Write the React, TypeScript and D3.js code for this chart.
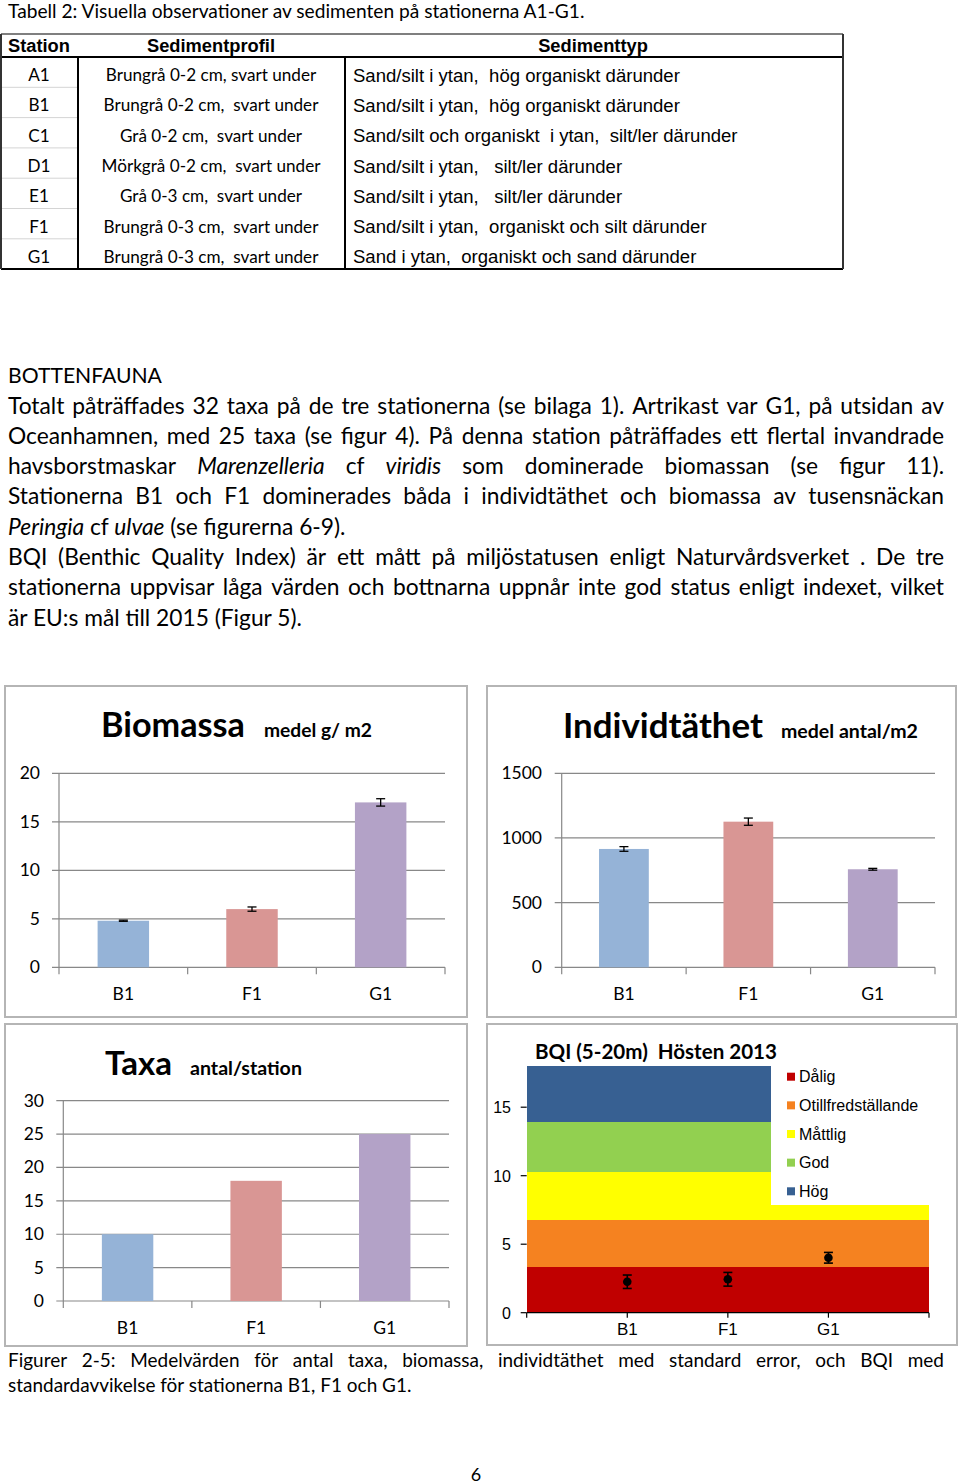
import React from 'react';
import * as d3 from 'd3';

// ---------- data ----------
const tableTitle = 'Tabell 2: Visuella observationer av sedimenten på stationerna A1-G1.';
const tableHeaders = ['Station', 'Sedimentprofil', 'Sedimenttyp'];
const tableStations = ['A1', 'B1', 'C1', 'D1', 'E1', 'F1', 'G1'];
const tableProfiles = [
  'Brungrå 0-2 cm, svart under',
  'Brungrå 0-2 cm,  svart under',
  'Grå 0-2 cm,  svart under',
  'Mörkgrå 0-2 cm,  svart under',
  'Grå 0-3 cm,  svart under',
  'Brungrå 0-3 cm,  svart under',
  'Brungrå 0-3 cm,  svart under',
];
const tableTypes = [
  'Sand/silt i ytan,  hög organiskt därunder',
  'Sand/silt i ytan,  hög organiskt därunder',
  'Sand/silt och organiskt  i ytan,  silt/ler därunder',
  'Sand/silt i ytan,   silt/ler därunder',
  'Sand/silt i ytan,   silt/ler därunder',
  'Sand/silt i ytan,  organiskt och silt därunder',
  'Sand i ytan,  organiskt och sand därunder',
];

const sectionHeading = 'BOTTENFAUNA';
type Part = [string, boolean];
const paragraphLines: { justify: boolean; parts: Part[] }[] = [
  { justify: true, parts: [['Totalt påträffades 32 taxa på de tre stationerna (se bilaga 1). Artrikast var G1, på utsidan av', false]] },
  { justify: true, parts: [['Oceanhamnen, med 25 taxa (se figur 4). På denna station påträffades ett flertal invandrade', false]] },
  { justify: true, parts: [['havsborstmaskar ', false], ['Marenzelleria', true], [' cf ', false], ['viridis', true], [' som dominerade biomassan (se figur 11).', false]] },
  { justify: true, parts: [['Stationerna B1 och F1 dominerades båda i individtäthet och biomassa av tusensnäckan', false]] },
  { justify: false, parts: [['Peringia', true], [' cf ', false], ['ulvae', true], [' (se figurerna 6-9).', false]] },
  { justify: true, parts: [['BQI (Benthic Quality Index) är ett mått på miljöstatusen enligt Naturvårdsverket . De tre', false]] },
  { justify: true, parts: [['stationerna uppvisar låga värden och bottnarna uppnår inte god status enligt indexet, vilket', false]] },
  { justify: false, parts: [['är EU:s mål till 2015 (Figur 5).', false]] },
];
const captionLines: { justify: boolean; parts: Part[] }[] = [
  { justify: true, parts: [['Figurer 2-5: Medelvärden  för antal taxa, biomassa, individtäthet med standard error, och BQI med', false]] },
  { justify: false, parts: [['standardavvikelse för stationerna B1, F1 och G1.', false]] },
];
const pageNumber = '6';

const stations = ['B1', 'F1', 'G1'];
const barColors = ['#95b3d7', '#d99694', '#b3a2c7'];

const biomassValues = [4.8, 6.0, 17.0];
const biomassErrors = [0.06, 0.22, 0.38];
const biomassTicks = [0, 5, 10, 15, 20];

const densityValues = [915, 1126, 758];
const densityErrors = [18, 28, 7];
const densityTicks = [0, 500, 1000, 1500];

const taxaValues = [10, 18, 25];
const taxaTicks = [0, 5, 10, 15, 20, 25, 30];

const bqiValues = [2.26, 2.44, 4.01];
const bqiErrors = [0.49, 0.5, 0.39];
const bqiTicks = [0, 5, 10, 15];
const bqiClassNames = ['Dålig', 'Otillfredställande', 'Måttlig', 'God', 'Hög'];
const bqiClassColors = ['#c00000', '#f58220', '#ffff00', '#92d050', '#376092'];
const bqiBoundsLeft = [0, 3.36, 6.77, 10.25, 13.9, 18];
const bqiBoundsRight = [0, 3.36, 6.77, 7.84];

// ---------- helpers ----------
let _ctx: CanvasRenderingContext2D | null = null;
function measure(text: string, font: string): number {
  if (!_ctx) _ctx = document.createElement('canvas').getContext('2d');
  _ctx!.font = font;
  return _ctx!.measureText(text).width;
}
function fitSize(text: string, family: string, weight: string, target: number, style = 'normal') {
  const w = measure(text, `${style} ${weight} 100px ${family}`);
  return (100 * target) / w;
}

const SANS = 'Lato';
const ARIAL = '"Liberation Sans", Arial';

function TextLine({ parts, justify, x0, x1, y, size, family }: { parts: Part[]; justify: boolean; x0: number; x1: number; y: number; size: number; family: string }) {
  if (!justify) {
    return (
      <text x={x0} y={y} fontFamily={family} fontSize={size} style={{ whiteSpace: 'pre' }} fill="#000">
        {parts.map(([t, it], i) => (
          <tspan key={i} fontStyle={it ? 'italic' : 'normal'}>{t}</tspan>
        ))}
      </text>
    );
  }
  const words = parts.flatMap(([t, it]) => t.split(' ').filter((w) => w.length).map((w) => ({ w, it })));
  const widths = words.map((o) => measure(o.w, `${o.it ? 'italic' : 'normal'} normal ${size}px ${family}`));
  const total = d3.sum(widths);
  const gap = (x1 - x0 - total) / (words.length - 1);
  let x = x0;
  return (
    <g>
      {words.map((o, i) => {
        const el = (
          <text key={i} x={x} y={y} fontFamily={family} fontSize={size} fontStyle={o.it ? 'italic' : 'normal'} fill="#000">
            {o.w}
          </text>
        );
        x += widths[i] + gap;
        return el;
      })}
    </g>
  );
}

type Box = { x: number; y: number; w: number; h: number };
type Plot = { left: number; right: number; top: number; bottom: number };

function BarChart(props: {
  box: Box; plot: Plot; ticks: number[]; values: number[]; errors?: number[];
  title: string; subtitle: string; titleX: number; titleW: number; subX: number; subW: number; titleY: number;
  yLabelRight: number; xLabelY: number;
}) {
  const { box, plot, ticks, values, errors, title, subtitle, titleX, titleW, subX, subW, titleY, yLabelRight, xLabelY } = props;
  const y = d3.scaleLinear().domain([0, d3.max(ticks)!]).range([plot.bottom, plot.top]);
  const x = d3.scaleBand().domain(stations).range([plot.left, plot.right]).paddingInner(0.6).paddingOuter(0.3);
  const step = x.step();
  const titleSize = fitSize(title, SANS, 'bold', titleW);
  const subSize = fitSize(subtitle, SANS, 'bold', subW);
  return (
    <g>
      <rect x={box.x} y={box.y} width={box.w} height={box.h} fill="#fff" stroke="#b5b5b5" strokeWidth={2} />
      <text x={titleX} y={titleY} fontFamily={SANS} fontWeight="bold" fontSize={titleSize}>{title}</text>
      <text x={subX} y={titleY} fontFamily={SANS} fontWeight="bold" fontSize={subSize}>{subtitle}</text>
      {ticks.map((t) => (
        <g key={t}>
          <line x1={plot.left - 7} x2={plot.right} y1={y(t)} y2={y(t)} stroke="#888" strokeWidth={1.2} />
          <text x={yLabelRight} y={y(t) + 6} textAnchor="end" fontFamily={SANS} fontSize={17.5} fill="#000">{t}</text>
        </g>
      ))}
      <line x1={plot.left} x2={plot.left} y1={plot.top} y2={plot.bottom} stroke="#888" strokeWidth={1.2} />
      {d3.range(stations.length + 1).map((i) => (
        <line key={i} x1={plot.left + i * step} x2={plot.left + i * step} y1={plot.bottom} y2={plot.bottom + 7} stroke="#888" strokeWidth={1.2} />
      ))}
      {stations.map((s, i) => (
        <g key={s}>
          <rect x={x(s)} y={y(values[i])} width={x.bandwidth()} height={plot.bottom - y(values[i])} fill={barColors[i]} />
          {errors && (
            <g stroke="#000" strokeWidth={1.3}>
              <line x1={x(s)! + x.bandwidth() / 2} x2={x(s)! + x.bandwidth() / 2} y1={y(values[i] - errors[i])} y2={y(values[i] + errors[i])} />
              <line x1={x(s)! + x.bandwidth() / 2 - 4.5} x2={x(s)! + x.bandwidth() / 2 + 4.5} y1={y(values[i] - errors[i])} y2={y(values[i] - errors[i])} />
              <line x1={x(s)! + x.bandwidth() / 2 - 4.5} x2={x(s)! + x.bandwidth() / 2 + 4.5} y1={y(values[i] + errors[i])} y2={y(values[i] + errors[i])} />
            </g>
          )}
          <text x={x(s)! + x.bandwidth() / 2} y={xLabelY} textAnchor="middle" fontFamily={SANS} fontSize={17.5}>{s}</text>
        </g>
      ))}
    </g>
  );
}

function BqiChart() {
  const box = { x: 487, y: 1024, w: 470, h: 321 };
  const x = d3.scaleLinear().domain([0, 4]).range([526.7, 929]);
  const y = d3.scaleLinear().domain([0, 18]).range([1312.7, 1066.1]);
  const split = 2.42;
  const title = 'BQI (5-20m)  Hösten 2013';
  const titleSize = fitSize(title, SANS, 'bold', 242);
  return (
    <g>
      <rect x={box.x} y={box.y} width={box.w} height={box.h} fill="#fff" stroke="#b5b5b5" strokeWidth={2} />
      <g shapeRendering="crispEdges">
        {bqiBoundsLeft.slice(1).map((b, i) => (
          <rect key={'l' + i} x={x(0)} width={x(split) - x(0) + 1} y={y(b)} height={y(bqiBoundsLeft[i]) - y(b)} fill={bqiClassColors[i]} />
        ))}
        {bqiBoundsRight.slice(1).map((b, i) => (
          <rect key={'r' + i} x={x(split)} width={x(4) - x(split)} y={y(b)} height={y(bqiBoundsRight[i]) - y(b)} fill={bqiClassColors[i]} />
        ))}
      </g>
      <text x={535} y={1059} fontFamily={SANS} fontWeight="bold" fontSize={titleSize} style={{ whiteSpace: 'pre' }}>{title}</text>
      <line x1={x(0)} x2={x(4)} y1={y(0)} y2={y(0)} stroke="#000" strokeWidth={1.2} />
      {d3.range(5).map((i) => (
        <line key={i} x1={x(i)} x2={x(i)} y1={y(0)} y2={y(0) + 5} stroke="#000" strokeWidth={1.2} />
      ))}
      {bqiTicks.map((t) => (
        <g key={t}>
          <line x1={x(0) - 6} x2={x(0)} y1={y(t)} y2={y(t)} stroke="#000" strokeWidth={1.2} />
          <text x={511} y={y(t) + 6} textAnchor="end" fontFamily={ARIAL} fontSize={16}>{t}</text>
        </g>
      ))}
      {stations.map((s, i) => (
        <g key={s}>
          <g stroke="#000" strokeWidth={1.6}>
            <line x1={x(i + 1)} x2={x(i + 1)} y1={y(bqiValues[i] - bqiErrors[i])} y2={y(bqiValues[i] + bqiErrors[i])} />
            <line x1={x(i + 1) - 4.5} x2={x(i + 1) + 4.5} y1={y(bqiValues[i] - bqiErrors[i])} y2={y(bqiValues[i] - bqiErrors[i])} />
            <line x1={x(i + 1) - 4.5} x2={x(i + 1) + 4.5} y1={y(bqiValues[i] + bqiErrors[i])} y2={y(bqiValues[i] + bqiErrors[i])} />
          </g>
          <circle cx={x(i + 1)} cy={y(bqiValues[i])} r={4.3} fill="#000" />
          <text x={x(i + 1)} y={1335} textAnchor="middle" fontFamily={ARIAL} fontSize={17}>{s}</text>
        </g>
      ))}
      {bqiClassNames.map((n, i) => {
        const cy = 1076.7 + i * 28.65;
        return (
          <g key={n}>
            <rect x={787} y={cy - 4} width={8} height={8} fill={bqiClassColors[i]} />
            <text x={799} y={cy + 5.5} fontFamily={ARIAL} fontSize={16}>{n}</text>
          </g>
        );
      })}
    </g>
  );
}

export default function App() {
  const titleSize = fitSize(tableTitle, SANS, 'normal', 579);
  const headSize = fitSize('Station', ARIAL, 'bold', 62);
  const profileSize = fitSize('Mörkgrå 0-2 cm,  svart under', SANS, 'normal', 219);
  const typeSize = fitSize('Sand/silt och organiskt  i ytan,  silt/ler därunder', ARIAL, 'normal', 385);
  const bodySize = fitSize('är EU:s mål till 2015 (Figur 5).', SANS, 'normal', 295);
  const headingSize = fitSize(sectionHeading, SANS, 'normal', 154);
  const captionSize = fitSize('standardavvikelse för stationerna B1, F1 och G1.', SANS, 'normal', 404);

  const rowTop = 57;
  const rowH = 30.3;
  const tableLeft = 1;
  const tableRight = 843;
  const col1 = 78;
  const col2 = 345;
  const tableBottom = rowTop + rowH * tableStations.length;

  return (
    <svg width={960} height={1484} style={{ position: 'absolute', left: 0, top: 0 }} fontFamily={SANS}>
      <rect width={960} height={1484} fill="#fff" />
      <text x={8} y={18} fontSize={titleSize} fontFamily={SANS}>{tableTitle}</text>

      {/* table */}
      {tableStations.slice(1).map((_, i) => (
        <line key={i} x1={tableLeft + 1} x2={col1 - 1} y1={rowTop + rowH * (i + 1)} y2={rowTop + rowH * (i + 1)} stroke="#d4d4d4" strokeWidth={1} />
      ))}
      <line x1={tableLeft} x2={tableRight} y1={34} y2={34} stroke="#555" strokeWidth={1.5} />
      <line x1={tableLeft} x2={tableRight} y1={rowTop} y2={rowTop} stroke="#000" strokeWidth={2} />
      <line x1={tableLeft} x2={tableRight} y1={tableBottom} y2={tableBottom} stroke="#000" strokeWidth={2} />
      <line x1={tableLeft} x2={tableLeft} y1={34} y2={tableBottom} stroke="#333" strokeWidth={2} />
      <line x1={tableRight} x2={tableRight} y1={34} y2={tableBottom} stroke="#333" strokeWidth={2} />
      <line x1={col1} x2={col1} y1={rowTop} y2={tableBottom} stroke="#000" strokeWidth={2} />
      <line x1={col2} x2={col2} y1={rowTop} y2={tableBottom} stroke="#000" strokeWidth={2} />
      <text x={8} y={51.5} fontFamily={ARIAL} fontWeight="bold" fontSize={headSize}>{tableHeaders[0]}</text>
      <text x={211} y={51.5} textAnchor="middle" fontFamily={ARIAL} fontWeight="bold" fontSize={headSize}>{tableHeaders[1]}</text>
      <text x={593} y={51.5} textAnchor="middle" fontFamily={ARIAL} fontWeight="bold" fontSize={headSize}>{tableHeaders[2]}</text>
      {tableStations.map((s, i) => {
        const cy = rowTop + rowH * i + rowH / 2;
        return (
          <g key={s}>
            <text x={39} y={cy + 9} textAnchor="middle" fontFamily={SANS} fontSize={profileSize}>{s}</text>
            <text x={211} y={cy + 9} textAnchor="middle" fontFamily={SANS} fontSize={profileSize} style={{ whiteSpace: 'pre' }}>{tableProfiles[i]}</text>
            <text x={353} y={cy + 9.5} fontFamily={ARIAL} fontSize={typeSize} style={{ whiteSpace: 'pre' }}>{tableTypes[i]}</text>
          </g>
        );
      })}

      {/* text */}
      <text x={8} y={383} fontFamily={SANS} fontSize={headingSize}>{sectionHeading}</text>
      {paragraphLines.map((l, i) => (
        <TextLine key={i} parts={l.parts} justify={l.justify} x0={8} x1={944} y={413.5 + i * 30.3} size={bodySize} family={SANS} />
      ))}

      {/* charts */}
      <BarChart
        box={{ x: 5, y: 686, w: 462, h: 331 }}
        plot={{ left: 59, right: 445, top: 773.3, bottom: 967.3 }}
        ticks={biomassTicks} values={biomassValues} errors={biomassErrors}
        title="Biomassa" subtitle="medel g/ m2" titleX={101} titleW={144} subX={264} subW={108} titleY={737}
        yLabelRight={40} xLabelY={1000}
      />
      <BarChart
        box={{ x: 487, y: 686, w: 469, h: 331 }}
        plot={{ left: 561.7, right: 935, top: 773.3, bottom: 967.3 }}
        ticks={densityTicks} values={densityValues} errors={densityErrors}
        title="Individtäthet" subtitle="medel antal/m2" titleX={563} titleW={200} subX={781} subW={137} titleY={738}
        yLabelRight={542} xLabelY={1000}
      />
      <BarChart
        box={{ x: 5, y: 1024, w: 462, h: 322 }}
        plot={{ left: 63.3, right: 449, top: 1100.7, bottom: 1301 }}
        ticks={taxaTicks} values={taxaValues}
        title="Taxa" subtitle="antal/station" titleX={105} titleW={67} subX={190} subW={112} titleY={1075}
        yLabelRight={44} xLabelY={1334}
      />
      <BqiChart />

      {/* caption */}
      {captionLines.map((l, i) => (
        <TextLine key={i} parts={l.parts} justify={l.justify} x0={8} x1={944} y={1367 + i * 25} size={captionSize} family={SANS} />
      ))}
      <text x={476} y={1481} textAnchor="middle" fontFamily={SANS} fontSize={18}>{pageNumber}</text>
    </svg>
  );
}
